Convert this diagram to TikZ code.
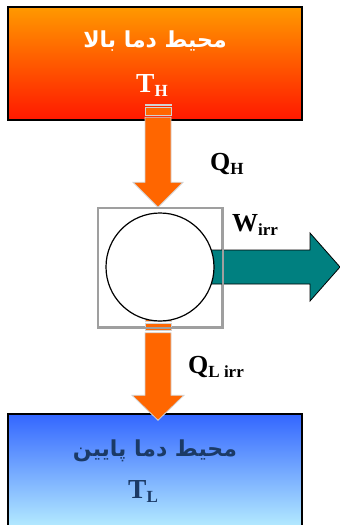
\documentclass[tikz,border=0pt]{standalone}
\usepackage{fontspec}
\setmainfont{Liberation Serif}
\newfontfamily\farsi[Script=Arabic]{DejaVu Sans}
\TeXXeTstate=1
\usetikzlibrary{
  positioning,
  calc
}
\usepackage{xcolor}
\definecolor{hotTop}{HTML}{FF9900}
\definecolor{hotBot}{HTML}{FF1800}
\definecolor{coldTop}{HTML}{3366FF}
\definecolor{coldBot}{HTML}{C8FFFF}
\definecolor{heat}{HTML}{FF6600}
\definecolor{work}{HTML}{008080}
\definecolor{navy}{HTML}{1B3A66}
\newcommand{\lowsub}[1]{\raisebox{-4pt}{\fontsize{17}{17}\selectfont #1}}

\begin{document}
\begin{tikzpicture}[x=1pt, y=1pt,
  envbox/.style={draw=black, line width=1.5pt, minimum width=294pt, inner sep=0pt},
  heatarrow/.style={fill=heat, draw=gray!35, line width=0.8pt},
  lbl/.style={font=\bfseries\fontsize{26}{26}\selectfont, inner sep=0pt, anchor=base west},
  temp/.style={font=\bfseries\fontsize{27.5}{27.5}\selectfont, inner sep=0pt, anchor=base west},
  fa/.style={font=\farsi\bfseries\fontsize{22}{22}\selectfont, inner sep=0pt}
]
  \useasboundingbox (0,0) rectangle (340,-525);

  % reservoirs
  \node[envbox, top color=hotTop, bottom color=hotBot, minimum height=113pt] (hot) at (155,-63.5) {};
  \node[envbox, top color=coldTop, bottom color=coldBot, minimum height=130pt] (cold) at (155,-479) {};

  \node[fa, text=white] (hotname) at (155,-41.5) {\beginR محیط دما بالا\endR};
  \node[temp, text=white] (th) at (136,-92.3) {T\lowsub{H}};
  \node[fa, text=navy] (coldname) at (155,-451) {\beginR محیط دما پایین\endR};
  \node[temp, text=navy] (tl) at (128,-498) {T\lowsub{L}};

  % engine
  \node[draw=gray!75, line width=1.5pt, minimum width=124pt, minimum height=119pt, inner sep=0pt] (frame) at (160,-267.5) {};
  \coordinate (qhtip) at ($(frame.north)+(-2,0)$);
  \coordinate (qltip) at ($(cold.north)+(3,-7)$);

  % heat in
  \filldraw[heatarrow] (qhtip) -- ++(-25,25) -- ++(12,0) -- ++(0,65) -- ++(26,0) -- ++(0,-65) -- ++(12,0) -- cycle;
  \filldraw[heatarrow] ($(qhtip)+(-13,92)$) rectangle ++(26,8);
  \filldraw[heatarrow, line width=0.4pt] ($(qhtip)+(-13,102)$) rectangle ++(26,1);

  % heat out
  \filldraw[heatarrow] (qltip) -- ++(-26,25) -- ++(13,0) -- ++(0,62.5) -- ++(26,0) -- ++(0,-62.5) -- ++(13,0) -- cycle;
  \filldraw[heatarrow] ($(qltip)+(-13,90)$) rectangle ++(26,7);
  \filldraw[heatarrow] ($(qltip)+(-13,98.5)$) rectangle ++(26,3);

  % work out
  \node[circle, minimum size=108pt, inner sep=0pt] (engine) at (160,-267) {};
  \filldraw[fill=work, draw=black, line width=0.8pt] ($(engine.center)+(0,17)$) -- ++(150,0) -- ++(0,17) -- ++(30,-34) -- ++(-30,-34) -- ++(0,17) -- ++(-150,0) -- cycle;
  \draw[fill=white, line width=1.2pt] (engine) circle (54);
  \draw[draw=gray!75, line width=1.5pt] (frame.south west) rectangle (frame.north east);

  % labels
  \node[lbl] (qh) at (210,-170) {Q\lowsub{H}};
  \node[lbl] (w) at (232,-231.5) {W\lowsub{irr}};
  \node[lbl] (ql) at (188,-373.3) {Q\lowsub{L irr}};
\end{tikzpicture}
\end{document}
